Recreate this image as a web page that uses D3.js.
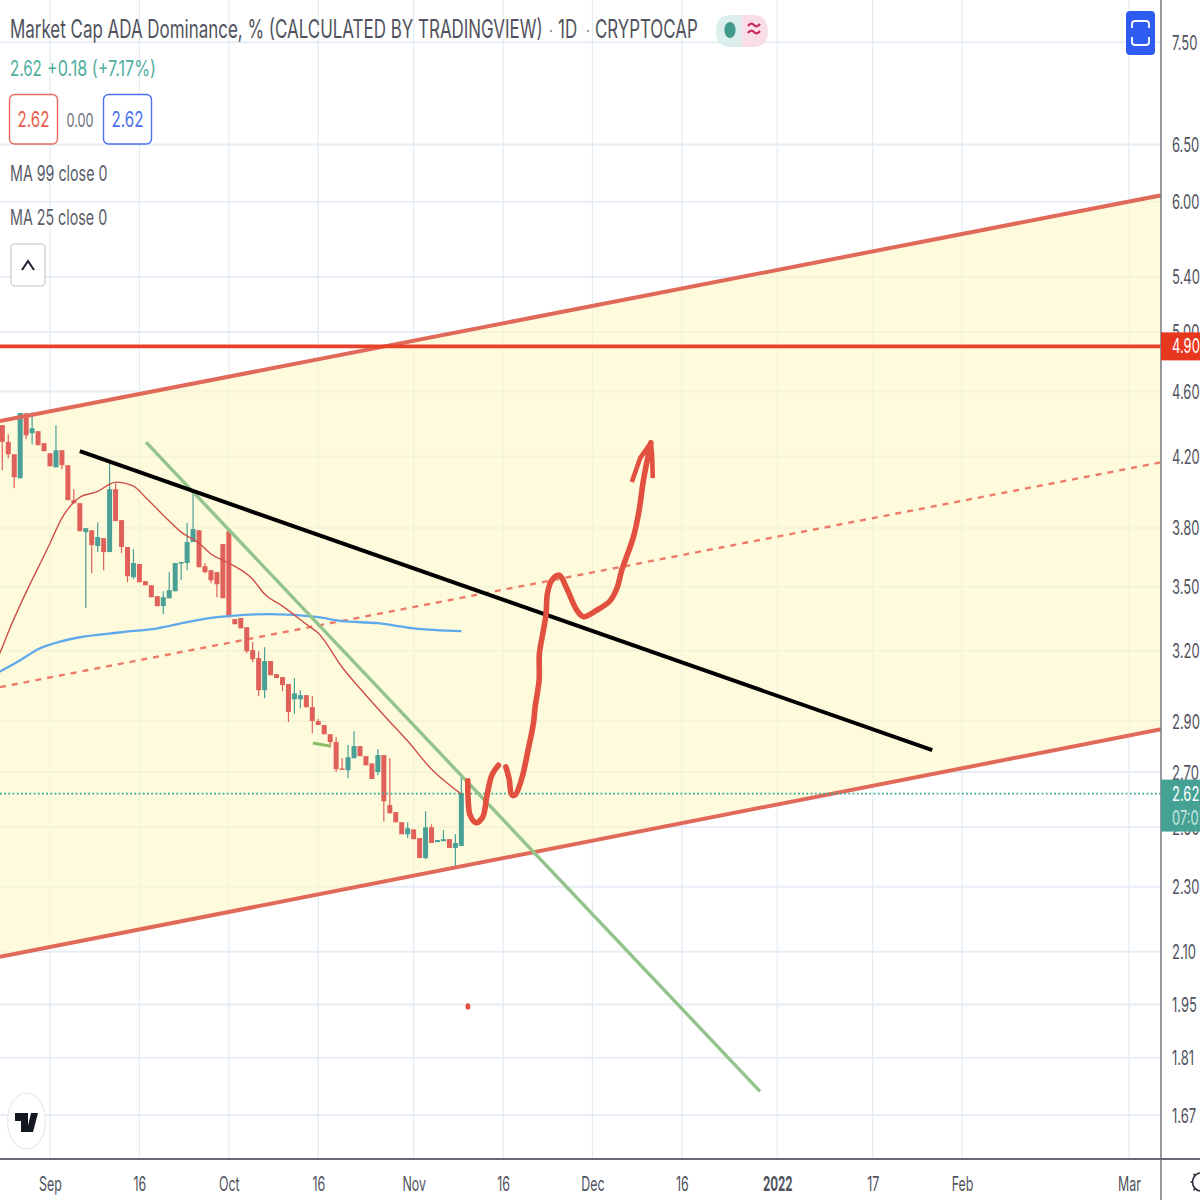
<!DOCTYPE html>
<html>
<head>
<meta charset="utf-8">
<script src="https://cdn.jsdelivr.net/npm/d3@7/dist/d3.min.js"></script>
<style>
html,body{margin:0;padding:0;background:#fff}
svg{display:block}
text{font-family:Inter,"Noto Sans",sans-serif}
</style>
</head>
<body>
<svg id="chart" width="1200" height="1200"></svg>
<script>
// Daily candles, one per day starting 8 days before 1 Sep 2021
const firstCandleDay = -8;
const opens = [4.388,4.287,4.213,4.074,4.462,4.339,4.351,4.279,4.219,4.137,4.237,4.149,3.951,3.934,3.778,3.788,3.705,3.746,3.674,4.012,3.842,3.700,3.547,3.613,3.527,3.507,3.454,3.406,3.444,3.478,3.618,3.618,3.726,3.788,3.602,3.582,3.572,3.715,3.783,3.345,3.350,3.307,3.203,3.167,3.028,3.154,3.097,3.084,3.054,2.990,2.990,3.007,2.957,2.900,2.884,2.847,2.816,2.714,2.707,2.753,2.800,2.761,2.733,2.700,2.765,2.578,2.553,2.517,2.475,2.492,2.462,2.394,2.499,2.448,2.451,2.458,2.428,2.435];
const highs = [4.388,4.333,4.213,4.464,4.462,4.469,4.351,4.279,4.219,4.388,4.237,4.149,4.012,3.934,3.799,3.788,3.831,3.746,4.161,4.046,3.842,3.700,3.689,3.613,3.527,3.507,3.454,3.478,3.572,3.618,3.623,3.826,4.006,3.788,3.618,3.582,3.572,3.715,3.783,3.345,3.350,3.307,3.239,3.198,3.216,3.154,3.097,3.084,3.054,3.080,3.028,3.007,3.003,2.908,2.884,2.847,2.836,2.753,2.804,2.859,2.800,2.761,2.733,2.788,2.765,2.753,2.553,2.517,2.517,2.492,2.462,2.556,2.510,2.455,2.489,2.458,2.475,2.681];
const lows = [4.120,4.190,4.017,4.074,4.303,4.273,4.267,4.231,4.143,4.137,4.126,3.951,3.934,3.783,3.397,3.567,3.674,3.582,3.674,3.837,3.669,3.522,3.537,3.522,3.507,3.449,3.406,3.368,3.444,3.478,3.532,3.582,3.726,3.597,3.567,3.517,3.449,3.444,3.354,3.321,3.302,3.189,3.149,3.003,2.994,3.092,3.080,3.024,2.896,2.929,2.953,2.957,2.851,2.884,2.847,2.796,2.700,2.711,2.677,2.753,2.761,2.726,2.674,2.689,2.520,2.549,2.517,2.475,2.462,2.458,2.394,2.390,2.445,2.448,2.451,2.428,2.364,2.435];
const closes = [4.287,4.213,4.080,4.464,4.327,4.369,4.267,4.231,4.143,4.237,4.149,3.951,3.934,3.783,3.799,3.710,3.752,3.674,4.012,3.837,3.700,3.552,3.618,3.522,3.507,3.449,3.406,3.449,3.483,3.618,3.623,3.726,3.794,3.597,3.572,3.532,3.512,3.444,3.354,3.321,3.302,3.198,3.162,3.028,3.154,3.092,3.080,3.050,2.937,3.015,3.007,2.957,2.900,2.884,2.847,2.816,2.711,2.711,2.757,2.800,2.761,2.726,2.674,2.765,2.592,2.549,2.517,2.475,2.496,2.458,2.394,2.499,2.445,2.455,2.458,2.428,2.445,2.62];

// Moving averages: day offset from 1 Sep 2021 and value
const ma25Days = [-9,-8,-7,0,2,4,5,8,10,11,14,16,19,22,25,27,30,34,36,39,43,45,49,53,56,60,64,66,69];
const ma25Values = [3.154,3.216,3.284,3.720,3.853,3.940,3.967,4.000,4.040,4.052,4.029,3.967,3.869,3.778,3.720,3.664,3.618,3.537,3.464,3.406,3.321,3.280,3.127,3.007,2.924,2.820,2.711,2.670,2.618];
const ma99Days = [-9,-8,-5,-2,2,5,12,18,23,28,32,37,45,49,55,61,69];
const ma99Values = [3.100,3.114,3.158,3.207,3.243,3.261,3.284,3.302,3.331,3.354,3.364,3.368,3.354,3.335,3.326,3.302,3.289];

// Rising channel, end points as [day, price]
const channelDays = [-8.39, 186.4];
const channelUpper = [4.413, 6.054];
const channelMiddle = [3.041, 4.166];
const channelLower = [2.085, 2.867];

// Trend lines
const blackTrendDays = [5, 148];
const blackTrendPrices = [4.231, 2.784];
const greenTrendDays = [16.1, 119.1];
const greenTrendPrices = [4.285, 1.727];
const shortGreenDays = [44.1, 47];
const shortGreenPrices = [2.812, 2.800];

// Hand-drawn projection
const brushOneDays = [70.08,70.18,70.47,71.48,72.6,73.27,74.11,75.22];
const brushOnePrices = [2.667,2.585,2.542,2.515,2.536,2.609,2.688,2.726];
const brushTwoDays = [76.46,77.01,77.47,78.02,79.14,80.25,81.09,81.38,82.05,82.1,82.77,83.22,83.44,84.18,85.45,86.69,88.37,89.48,91.73,93.96,95.08,95.92,97.87,98.83,99.55,100.79];
const brushTwoPrices = [2.720,2.676,2.615,2.615,2.676,2.791,2.890,2.958,3.071,3.188,3.293,3.371,3.467,3.532,3.557,3.491,3.387,3.356,3.387,3.432,3.491,3.582,3.753,3.896,4.063,4.281];
const arrowDays = [97.6,98.99,100.79,101.0,101.12];
const arrowPrices = [4.053,4.190,4.281,4.210,4.075];
const dotDay = 70.1, dotPrice = 1.945;

const resistanceLevel = 4.90;
const lastPrice = 2.62;

// Axis labels
const priceTicks = [7.50,6.50,6.00,5.40,5.00,4.60,4.20,3.80,3.50,3.20,2.90,2.70,2.50,2.30,2.10,1.95,1.81,1.67];
const timeTickDates = ["2021-09-01","2021-09-16","2021-10-01","2021-10-16","2021-11-01","2021-11-16","2021-12-01","2021-12-16","2022-01-01","2022-01-17","2022-02-01","2022-03-01"];
const timeTickLabels = ["Sep","16","Oct","16","Nov","16","Dec","16","2022","17","Feb","Mar"];

const plotRight = 1161, plotBottom = 1159;

const svg = d3.select("#chart");
const origin = Date.UTC(2021, 8, 1);
const x = d3.scaleUtc().domain([new Date(origin), new Date(Date.UTC(2022, 2, 1))]).range([50, 1129]);
const y = d3.scaleLog().domain([7.5, 1.67]).range([42.3, 1115.3]);
const dayX = d => x(new Date(origin + d * 864e5));
const parsedTicks = timeTickDates.map(d => new Date(d + "T00:00:00Z"));

svg.append("rect").attr("width", 1200).attr("height", 1200).attr("fill", "#ffffff");
const defs = svg.append("defs");
defs.append("clipPath").attr("id", "plot").append("rect").attr("width", plotRight).attr("height", plotBottom);

// Grid
const grid = svg.append("g").attr("clip-path", "url(#plot)");
grid.selectAll("line.h").data(priceTicks).join("line").attr("class", "h")
  .attr("x1", 0).attr("x2", plotRight).attr("y1", d => y(d)).attr("y2", d => y(d))
  .attr("stroke", "#e6edf4").attr("stroke-width", 2);
grid.selectAll("line.v").data(parsedTicks).join("line").attr("class", "v")
  .attr("x1", d => x(d)).attr("x2", d => x(d)).attr("y1", 0).attr("y2", plotBottom)
  .attr("stroke", "#e3ebf3").attr("stroke-width", 1.2);

const plot = svg.append("g").attr("clip-path", "url(#plot)");

// Channel band
const band = d3.area().x((d, i) => dayX(channelDays[i])).y0((d, i) => y(channelLower[i])).y1((d, i) => y(channelUpper[i]));
plot.append("path").attr("d", band(channelDays)).attr("fill", "#fdf9c8").attr("fill-opacity", 0.62);

const straight = d3.line().x(d => dayX(d[0])).y(d => y(d[1]));
const pairs = (days, prices) => days.map((d, i) => [d, prices[i]]);

plot.append("path").attr("d", straight(pairs(channelDays, channelMiddle))).attr("fill", "none")
  .attr("stroke", "#ee7a68").attr("stroke-width", 2.4).attr("stroke-dasharray", "6 6");

// Candles
const up = "#4a9f96", down = "#e0605a";
const candles = closes.map((c, i) => ({ day: firstCandleDay + i, o: opens[i], h: highs[i], l: lows[i], c }));
const candleGroup = plot.append("g");
candleGroup.selectAll("line").data(candles).join("line")
  .attr("x1", d => dayX(d.day)).attr("x2", d => dayX(d.day))
  .attr("y1", d => y(d.h)).attr("y2", d => y(d.l))
  .attr("stroke", d => d.c >= d.o ? up : down).attr("stroke-width", 1.2);
candleGroup.selectAll("rect").data(candles).join("rect")
  .attr("x", d => dayX(d.day) - 2.5).attr("width", 5)
  .attr("y", d => y(Math.max(d.o, d.c)))
  .attr("height", d => Math.max(1.5, Math.abs(y(d.o) - y(d.c))))
  .attr("fill", d => d.c >= d.o ? up : down);

// Moving averages
const smooth = d3.line().curve(d3.curveMonotoneX).x(d => dayX(d[0])).y(d => y(d[1]));
plot.append("path").attr("d", smooth(pairs(ma99Days, ma99Values))).attr("fill", "none").attr("stroke", "#5fa8ea").attr("stroke-width", 2.3);
plot.append("path").attr("d", smooth(pairs(ma25Days, ma25Values))).attr("fill", "none").attr("stroke", "#cd4f47").attr("stroke-width", 1.4);

// Channel borders
[channelUpper, channelLower].forEach(prices => {
  plot.append("path").attr("d", straight(pairs(channelDays, prices))).attr("fill", "none")
    .attr("stroke", "#e0695a").attr("stroke-width", 4);
});

// Last price marker line
plot.append("line").attr("x1", 0).attr("x2", plotRight).attr("y1", y(lastPrice)).attr("y2", y(lastPrice))
  .attr("stroke", "#35ab9a").attr("stroke-width", 1.6).attr("stroke-dasharray", "1.8 2.4");

// Horizontal resistance
plot.append("line").attr("x1", 0).attr("x2", plotRight).attr("y1", y(resistanceLevel)).attr("y2", y(resistanceLevel))
  .attr("stroke", "#e8432a").attr("stroke-width", 3.6);

// Trend lines
plot.append("path").attr("d", straight(pairs(greenTrendDays, greenTrendPrices))).attr("fill", "none").attr("stroke", "#92c48c").attr("stroke-width", 3.4);
plot.append("path").attr("d", straight(pairs(shortGreenDays, shortGreenPrices))).attr("fill", "none").attr("stroke", "#84bd62").attr("stroke-width", 3);
plot.append("path").attr("d", straight(pairs(blackTrendDays, blackTrendPrices))).attr("fill", "none").attr("stroke", "#000000").attr("stroke-width", 4);

// Hand-drawn path with arrow head
const brush = d3.line().curve(d3.curveCatmullRom.alpha(0.5)).x(d => dayX(d[0])).y(d => y(d[1]));
[pairs(brushOneDays, brushOnePrices), pairs(brushTwoDays, brushTwoPrices)].forEach(points => {
  plot.append("path").attr("d", brush(points)).attr("fill", "none").attr("stroke", "#e25040")
    .attr("stroke-width", 5.6).attr("stroke-linecap", "round").attr("stroke-linejoin", "round");
});
plot.append("path").attr("d", straight(pairs(arrowDays, arrowPrices))).attr("fill", "none").attr("stroke", "#e25040")
  .attr("stroke-width", 4.6).attr("stroke-linejoin", "round");
plot.append("ellipse").attr("cx", dayX(dotDay)).attr("cy", y(dotPrice)).attr("rx", 2.4).attr("ry", 3.2).attr("fill", "#e25040");

// Text drawn narrow with a horizontal scale
function label(parent, tx, ty, text, size, fill, sx, anchor) {
  return parent.append("text")
    .attr("transform", `translate(${tx},${ty}) scale(${sx},1)`)
    .attr("font-size", size).attr("fill", fill)
    .attr("text-anchor", anchor || "start")
    .text(text);
}

// Price axis
const yAxis = d3.axisRight(y).tickValues(priceTicks).tickFormat(d3.format(".2f")).tickSize(0);
const yg = svg.append("g").attr("transform", `translate(${plotRight},0)`).call(yAxis);
yg.select(".domain").remove();
yg.selectAll("text").attr("x", 0).attr("y", 0).attr("dy", "0.35em")
  .attr("transform", "translate(11,0) scale(0.65,1)")
  .attr("font-family", "Inter").attr("font-size", 20).attr("fill", "#50535e");

// Time axis
const xAxis = d3.axisBottom(x).tickValues(parsedTicks).tickFormat((d, i) => timeTickLabels[i]).tickSize(0);
const xg = svg.append("g").attr("transform", `translate(0,${plotBottom})`).call(xAxis);
xg.select(".domain").remove();
xg.selectAll("text").attr("y", 0).attr("dy", "0.35em")
  .attr("transform", (d, i) => `translate(0,25) scale(${timeTickLabels[i] === "2022" ? 0.58 : 0.62},1)`)
  .attr("font-family", "Inter").attr("font-size", 20).attr("fill", "#50535e")
  .attr("font-weight", (d, i) => timeTickLabels[i] === "2022" ? 700 : 400);

// Axis frame
svg.append("line").attr("x1", plotRight).attr("x2", plotRight).attr("y1", 0).attr("y2", 1200).attr("stroke", "#7d808a").attr("stroke-width", 1.6);
svg.append("line").attr("x1", 0).attr("x2", 1200).attr("y1", plotBottom).attr("y2", plotBottom).attr("stroke", "#676a74").attr("stroke-width", 1.8);

// Price tags on the axis
const tags = svg.append("g");
tags.append("rect").attr("x", plotRight).attr("y", y(resistanceLevel) - 14).attr("width", 39).attr("height", 28).attr("fill", "#e8371f");
label(tags, 1172, y(resistanceLevel) + 7, d3.format(".2f")(resistanceLevel), 20, "#ffffff", 0.65);
tags.append("rect").attr("x", plotRight).attr("y", y(lastPrice) - 14).attr("width", 39).attr("height", 52).attr("fill", "#46a195");
label(tags, 1172, y(lastPrice) + 7, d3.format(".2f")(lastPrice), 20, "#ffffff", 0.65);
label(tags, 1172, y(lastPrice) + 31, "07:02", 20, "#c3e4df", 0.65);

// Legend header
const head = svg.append("g");
label(head, 10, 38, "Market Cap ADA Dominance, % (CALCULATED BY TRADINGVIEW)", 25, "#50535e", 0.678);
label(head, 558, 38, "1D", 25, "#50535e", 0.678);
label(head, 595, 38, "CRYPTOCAP", 25, "#50535e", 0.675);
head.selectAll("circle.sep").data([551, 588]).join("circle").attr("class", "sep")
  .attr("cx", d => d).attr("cy", 31).attr("r", 1.2).attr("fill", "#9a9ca5");

// Status pill
head.append("path").attr("d", "M742,15 H731 Q716,15 716,31 Q716,47 731,47 H742 Z").attr("fill", "#dcefec");
head.append("path").attr("d", "M742,15 H753 Q768,15 768,31 Q768,47 753,47 H742 Z").attr("fill", "#f9dee6");
head.append("ellipse").attr("cx", 730).attr("cy", 30).attr("rx", 5.6).attr("ry", 8).attr("fill", "#3f9a8a");
head.selectAll("path.wave").data([26, 33]).join("path").attr("class", "wave")
  .attr("d", d => `M748,${d} q3,-4 6,-1 t6,-1`).attr("fill", "none").attr("stroke", "#c8275f").attr("stroke-width", 2.2);

label(head, 10, 76, "2.62", 21, "#4fae9c", 0.72);
label(head, 47, 76, "+0.18 (+7.17%)", 21, "#4fae9c", 0.77);

head.append("rect").attr("x", 9.5).attr("y", 94.5).attr("width", 48).attr("height", 49.5).attr("rx", 5).attr("fill", "#ffffff").attr("stroke", "#ea6a5c").attr("stroke-width", 1.4);
label(head, 33.5, 127, "2.62", 21, "#ea5a4c", 0.72, "middle");
label(head, 80, 127, "0.00", 19, "#6c6f78", 0.67, "middle");
head.append("rect").attr("x", 103.5).attr("y", 94.5).attr("width", 48).attr("height", 49.5).attr("rx", 5).attr("fill", "#ffffff").attr("stroke", "#4a70f0").attr("stroke-width", 1.4);
label(head, 127.5, 127, "2.62", 21, "#4a70f0", 0.72, "middle");

label(head, 10, 181, "MA 99 close 0", 21, "#5a5d68", 0.68);
label(head, 10, 225, "MA 25 close 0", 21, "#5a5d68", 0.68);

// Collapse button
head.append("rect").attr("x", 11).attr("y", 244).attr("width", 34).attr("height", 42).attr("rx", 4).attr("fill", "#ffffff").attr("stroke", "#d5d6dc").attr("stroke-width", 1.6);
head.append("path").attr("d", "M22,270 L28,261 L34,270").attr("fill", "none").attr("stroke", "#1e222d").attr("stroke-width", 2);

// Fullscreen button
head.append("rect").attr("x", 1126).attr("y", 11).attr("width", 29).attr("height", 44).attr("rx", 4).attr("fill", "#2f5cf0");
head.append("path").attr("d", "M1132,28 V24 Q1132,21 1135,21 H1146 Q1149,21 1149,24 V28 M1132,37 V42 Q1132,45 1135,45 H1146 Q1149,45 1149,42 V37")
  .attr("fill", "none").attr("stroke", "#ffffff").attr("stroke-width", 1.8);

// Brand badge
head.append("ellipse").attr("cx", 26.5).attr("cy", 1121).attr("rx", 19).attr("ry", 28).attr("fill", "#ffffff").attr("stroke", "#e8e9ec").attr("stroke-width", 1.2);
head.append("path").attr("d", "M15,1113 H28 V1132 H21 V1121 H15 Z M31,1113 L38,1113 L33,1132 L26.5,1132 Z").attr("fill", "#131722");

// Settings gear, running off the corner
const gear = svg.append("g").attr("transform", "translate(1201,1182)");
gear.append("ellipse").attr("rx", 8.5).attr("ry", 9).attr("fill", "none").attr("stroke", "#2a2e39").attr("stroke-width", 1.6);
gear.selectAll("line").data(d3.range(8)).join("line")
  .attr("x1", d => 8.5 * Math.cos(d * Math.PI / 4)).attr("y1", d => 9 * Math.sin(d * Math.PI / 4))
  .attr("x2", d => 10.5 * Math.cos(d * Math.PI / 4)).attr("y2", d => 11.5 * Math.sin(d * Math.PI / 4))
  .attr("stroke", "#2a2e39").attr("stroke-width", 1.6);
</script>
</body>
</html>
